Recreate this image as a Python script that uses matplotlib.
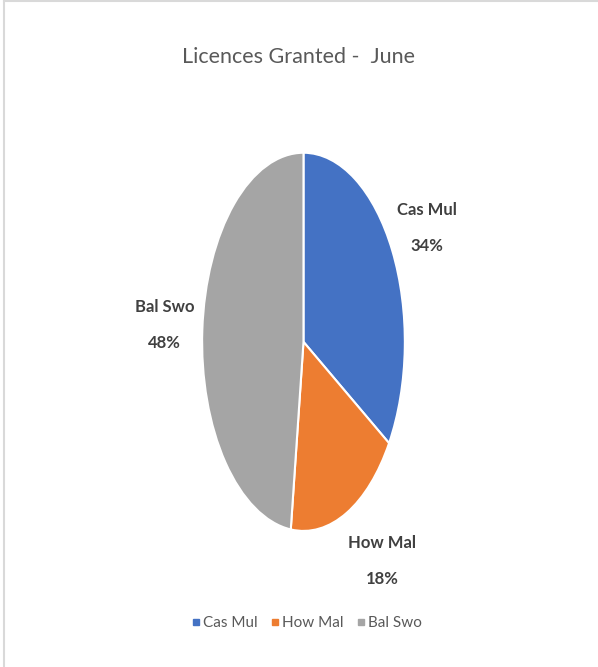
import numpy as np
import matplotlib
matplotlib.use("Agg")
import matplotlib.pyplot as plt
from matplotlib.lines import Line2D

# data
names = ['Cas Mul', 'How Mal', 'Bal Swo']
shares = [34, 18, 48]
colors = ['#4472C4', '#ED7D31', '#A5A5A5']

plt.rcParams['font.family'] = ['Lato', 'DejaVu Sans']

fig = plt.figure(figsize=(5.98, 6.67), dpi=100)
ax = fig.add_axes([0.338, 0.204, 0.339, 0.567])

wedges, _ = ax.pie(shares, colors=colors, startangle=90, counterclock=False,
                   wedgeprops=dict(edgecolor='white', linewidth=1.5))
ax.set_aspect('auto')
ax.set_xlim(-1, 1)
ax.set_ylim(-1, 1)

# data labels outside each slice (x / y stretch along the slice direction)
stretch_x = [1.39, 1.83, 1.37]
stretch_y = [1.25, 1.28, 1.4]
for w, name, s, kx, ky in zip(wedges, names, shares, stretch_x, stretch_y):
    mid = np.deg2rad((w.theta1 + w.theta2) / 2)
    ax.text(kx * np.cos(mid), ky * np.sin(mid), f'{name}\n{s}%',
            ha='center', va='center', fontsize=12, fontweight='bold',
            color='#404040', linespacing=2.5)

fig.suptitle('Licences Granted -  June', y=0.93, fontsize=15.5, color='#595959')

handles = [Line2D([], [], marker='s', linestyle='', color=c, markersize=5) for c in colors]
fig.legend(handles, names, loc='center', bbox_to_anchor=(0.51, 0.066), ncol=3,
           frameon=False, fontsize=11, labelcolor='#595959',
           handletextpad=0.0, columnspacing=0.6, handlelength=1)

# faint frame at the top and left edges
fig.add_artist(Line2D([0.007, 1], [0.998, 0.998], color='#D9D9D9', lw=1.5))
fig.add_artist(Line2D([0.007, 0.007], [0, 0.998], color='#D9D9D9', lw=1.5))

fig.savefig('out.png', dpi=100, facecolor='white')
